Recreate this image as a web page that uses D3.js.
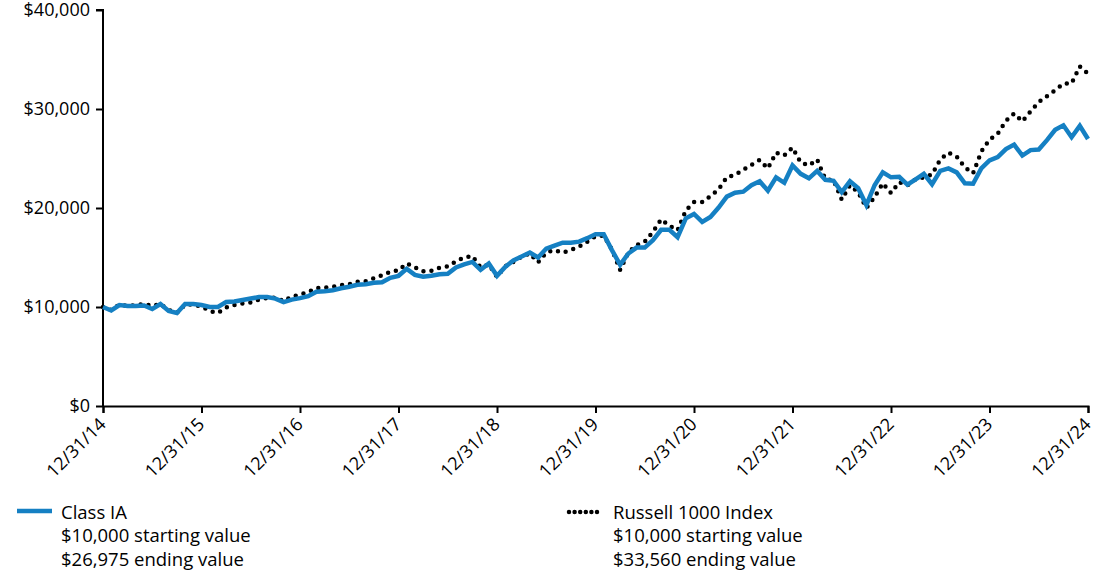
<!DOCTYPE html>
<html>
<head>
<meta charset="utf-8">
<script src="https://cdn.jsdelivr.net/npm/d3@7"></script>
<style>
  html, body { margin: 0; padding: 0; background: #fff; }
  svg { display: block; font-family: "Open Sans", sans-serif; }
  svg text { font-family: "Open Sans", sans-serif; }
</style>
</head>
<body>
<svg id="chart" width="1100" height="578"></svg>
<script>
// ---- data (month-end values, 12/31/14 .. 12/31/24) ----
const xTickLabels = ["12/31/14","12/31/15","12/31/16","12/31/17","12/31/18","12/31/19","12/31/20","12/31/21","12/31/22","12/31/23","12/31/24"];
const yTicks = [0, 10000, 20000, 30000, 40000];

const classIA = [
  10000, 9650, 10200, 10100, 10100, 10150, 9800, 10300, 9600, 9400, 10300, 10300,
  10200, 10000, 10000, 10500, 10550, 10700, 10850, 11000, 11000, 10850, 10500, 10750,
  10900, 11100, 11550, 11600, 11700, 11900, 12050, 12250, 12300, 12450, 12500, 12950,
  13150, 13850, 13250, 13050, 13150, 13300, 13350, 14000, 14300, 14550, 13750, 14400,
  13150, 14050, 14700, 15100, 15500, 15000, 15900, 16200, 16500, 16500, 16600, 16950,
  17350, 17350, 15750, 14250, 15400, 16000, 16000, 16750, 17800, 17800, 17050, 18950,
  19400, 18600, 19100, 20050, 21150, 21550, 21650, 22300, 22700, 21750, 23100, 22550,
  24300, 23450, 23000, 23750, 22850, 22750, 21600, 22700, 22000, 20300, 22300, 23600,
  23100, 23150, 22350, 22900, 23450, 22400, 23750, 24000, 23600, 22500, 22450, 24000,
  24800, 25150, 25950, 26400, 25300, 25850, 25900, 26850, 27900, 28350, 27150, 28300,
  26975
];

const russell1000 = [
  10000, 9700, 10250, 10100, 10200, 10300, 10100, 10300, 9700, 9400, 10250, 10250,
  10050, 9600, 9400, 9950, 10200, 10350, 10450, 10750, 10900, 10950, 10600, 11050,
  11250, 11500, 11900, 11950, 12050, 12200, 12300, 12550, 12600, 12900, 13200, 13550,
  13700, 14400, 14000, 13600, 13650, 13950, 14100, 14600, 15000, 15150, 14000, 14300,
  13050, 14100, 14550, 15100, 15400, 14500, 15500, 15750, 15500, 15750, 16100, 16600,
  17150, 17200, 15800, 13750, 15500, 16250, 16600, 17600, 18850, 18200, 17750, 19750,
  20600, 20600, 21200, 21900, 23100, 23350, 23850, 24350, 24850, 24000, 25600, 25300,
  26100, 24600, 24300, 24900, 22900, 22800, 20850, 22300, 21600, 20000, 21100, 22500,
  21500, 22600, 22300, 22900, 23100, 23400, 24900, 25600, 25200, 24100, 23500, 25700,
  26900, 27500, 28800, 29550, 28750, 29750, 30700, 31300, 31900, 32550, 32600, 34300,
  33560
];

const seriesNames = ["Class IA", "Russell 1000 Index"];
const legendLines = [
  ["Class IA", "$10,000 starting value", "$26,975 ending value"],
  ["Russell 1000 Index", "$10,000 starting value", "$33,560 ending value"]
];

// ---- layout ----
const svg = d3.select("#chart");
const margin = { left: 103, right: 12, top: 10, bottom: 172 };
const W = 1100, H = 578;
const blue = "#1580c3";

const x = d3.scaleLinear().domain([0, 120]).range([margin.left, W - margin.right]);
const y = d3.scaleLinear().domain([0, 40000]).range([H - margin.bottom, margin.top]);

// axes
const yAxis = d3.axisLeft(y).tickValues(yTicks).tickSize(7).tickPadding(6)
  .tickFormat(d => "$" + d3.format(",")(d));
const gy = svg.append("g").attr("transform", `translate(${margin.left},0)`).call(yAxis);
gy.attr("font-family", null).attr("font-size", null);
gy.selectAll("text").style("font-size", "18px").attr("fill", "#000");

const xAxis = d3.axisBottom(x).tickValues(d3.range(0, 121, 12)).tickSize(7).tickPadding(4)
  .tickFormat((d, i) => xTickLabels[i]);
const gx = svg.append("g").attr("transform", `translate(0,${y(0)})`).call(xAxis);
gx.attr("font-family", null).attr("font-size", null);
gx.selectAll("text")
  .style("font-size", "18px").attr("fill", "#000")
  .attr("text-anchor", "end")
  .attr("x", 0).attr("y", 0)
  .attr("dy", "0.35em")
  .attr("transform", "translate(-1,15) rotate(-45)");

[gx, gy].forEach(g => {
  g.selectAll(".domain").attr("stroke", "#000").attr("stroke-width", 2);
  g.selectAll(".tick line").attr("stroke", "#000").attr("stroke-width", 2);
});
gy.select(".domain").attr("d", `M-7,${y(40000)}H0V${y(0)}`);

// lines
const line = d3.line().x((d, i) => x(i)).y(d => y(d));

svg.append("path").datum(russell1000)
  .attr("d", line).attr("fill", "none")
  .attr("stroke", "#000").attr("stroke-width", 4.5)
  .attr("stroke-linecap", "round").attr("stroke-dasharray", "0 8");

svg.append("path").datum(classIA)
  .attr("d", line).attr("fill", "none")
  .attr("stroke", blue).attr("stroke-width", 4.5)
  .attr("stroke-linejoin", "miter");

// legend
const lg = svg.append("g");
lg.append("line").attr("x1", 17).attr("x2", 52).attr("y1", 511).attr("y2", 511)
  .attr("stroke", blue).attr("stroke-width", 4.5);
lg.append("line").attr("x1", 569).attr("x2", 597).attr("y1", 512).attr("y2", 512)
  .attr("stroke", "#000").attr("stroke-width", 4.5)
  .attr("stroke-linecap", "round").attr("stroke-dasharray", "0 5.6");

const legendX = [61, 613];
legendLines.forEach((lines, k) => {
  lines.forEach((t, j) => {
    lg.append("text").attr("x", legendX[k]).attr("y", 511 + j * 23.5)
      .attr("dominant-baseline", "central")
      .style("font-size", "18.5px").attr("fill", "#000").text(t);
  });
});
</script>
</body>
</html>
